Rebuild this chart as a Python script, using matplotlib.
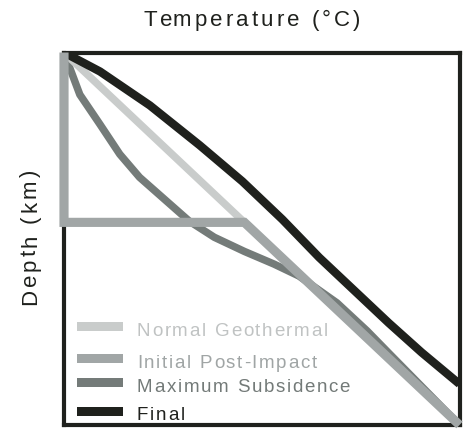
import matplotlib
matplotlib.use("Agg")
import matplotlib.pyplot as plt
from matplotlib.font_manager import FontProperties
from matplotlib.patches import Rectangle

W, H = 468, 431

# temperature / depth, both normalised to the frame (0 = top-left corner)
geo_temp = [0.0, 1.0]
geo_depth = [0.0, 1.0]

init_temp = [0.0, 0.0, 0.456, 1.0]
init_depth = [0.0, 0.456, 0.456, 1.0]

maxsub_temp = [0.0, 0.040, 0.091, 0.141, 0.191, 0.254, 0.317, 0.380, 0.456,
               0.531, 0.594, 0.690, 0.766, 0.824, 0.900, 1.0]
maxsub_depth = [0.0, 0.113, 0.193, 0.273, 0.335, 0.394, 0.453, 0.496, 0.534,
                0.568, 0.600, 0.672, 0.747, 0.810, 0.892, 1.0]

final_temp = [0.0, 0.091, 0.217, 0.343, 0.451, 0.552, 0.645, 0.738, 0.821, 0.904, 1.0]
final_depth = [0.0, 0.051, 0.142, 0.249, 0.346, 0.448, 0.550, 0.643, 0.726, 0.805, 0.890]

labels = ["Normal Geothermal", "Initial Post-Impact", "Maximum Subsidence", "Final"]
line_colors = ["#c9cccb", "#a1a6a6", "#747b79", "#1f211d"]
text_colors = ["#c0c3c3", "#a0a5a5", "#737a78", "#1f211d"]

BLACK = "#1f211d"

fig = plt.figure(figsize=(W / 100, H / 100), dpi=100)
ax = fig.add_axes([64 / W, 1 - 426 / H, (459.5 - 64) / W, (426 - 53.5) / H])
ax.set_xlim(0, 1)
ax.set_ylim(1, 0)
ax.set_xticks([])
ax.set_yticks([])
for sp in ax.spines.values():
    sp.set_linewidth(3)
    sp.set_color(BLACK)
    sp.set_zorder(2.5)

ax.plot(maxsub_temp, maxsub_depth, color=line_colors[2], lw=5.4,
        solid_joinstyle="round", solid_capstyle="butt", zorder=1)
ax.plot(geo_temp, geo_depth, color=line_colors[0], lw=5.4,
        solid_capstyle="butt", zorder=1.5)
ax.plot(init_temp, init_depth, color=line_colors[1], lw=6.6,
        solid_joinstyle="miter", solid_capstyle="butt", zorder=3, clip_on=False)
ax.plot(final_temp, final_depth, color=line_colors[3], lw=6.0,
        solid_joinstyle="round", solid_capstyle="butt", zorder=2)

renderer = fig.canvas.get_renderer()


def tracked(s, x, y, size, color, track, vertical=False):
    # draws text letter by letter to get the wide letter spacing
    prop = FontProperties(family="Liberation Sans", size=size)
    bar = renderer.get_text_width_height_descent("|", prop, ismath=False)[0]
    for i, ch in enumerate(s):
        adv = renderer.get_text_width_height_descent(s[:i] + "|", prop, ismath=False)[0] - bar + track * i
        if vertical:
            fig.text(x / W, 1 - (y - adv) / H, ch, rotation=90, rotation_mode="anchor",
                     ha="left", va="baseline", fontproperties=prop, color=color)
        else:
            fig.text((x + adv) / W, 1 - y / H, ch, ha="left", va="baseline",
                     fontproperties=prop, color=color)


tracked("Temperature (°C)", 143, 26, 16, BLACK, 3.1)
tracked("Depth (km)", 36, 305, 16, BLACK, 2.8, vertical=True)

row_mid = [327.5, 359, 383.5, 412]
baselines = [336, 368, 392, 420]
for lab, lc, tc, mid, base in zip(labels, line_colors, text_colors, row_mid, baselines):
    fig.add_artist(Rectangle((77 / W, 1 - (mid + 4.5) / H), 46 / W, 9 / H,
                             transform=fig.transFigure, color=lc, lw=0))
    tracked(lab, 137, base, 13.5, tc, 1.7)

fig.savefig("out.png", dpi=100)
